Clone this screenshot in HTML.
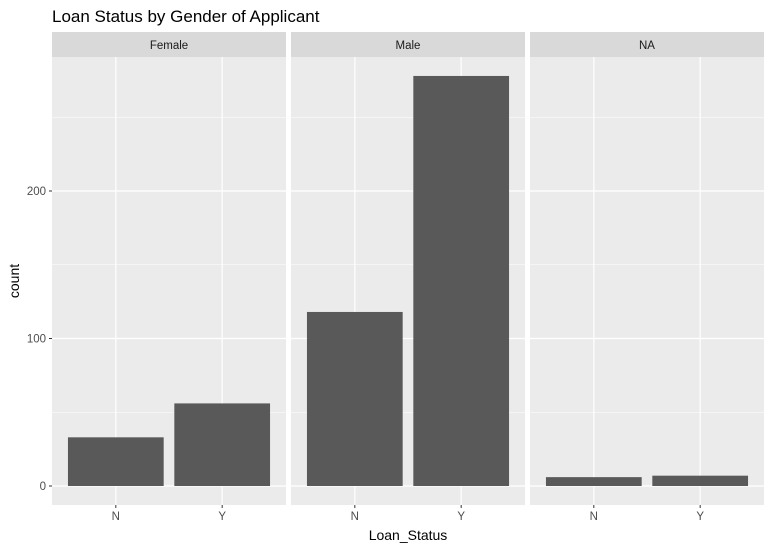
<!DOCTYPE html>
<html><head><meta charset="utf-8"><style>
body{margin:0;background:#fff;}
svg{display:block;font-family:"Liberation Sans",Arial,sans-serif;}
</style></head><body>
<svg id="chart" width="771" height="550">
<text x="52" y="22" font-size="17" fill="#000">Loan Status by Gender of Applicant</text>
<text transform="translate(19,281) rotate(-90)" text-anchor="middle" font-size="14" fill="#000">count</text>
<text x="408" y="540" text-anchor="middle" font-size="14" fill="#000">Loan_Status</text>
</svg>
<script>
const panels = ["Female","Male","NA"];
const categories = ["N","Y"];
const femaleCounts = [33, 56];
const maleCounts = [118, 278];
const naCounts = [6, 7];
const yTicks = [0, 100, 200];
const yMinor = [50, 150, 250];
const series = [femaleCounts, maleCounts, naCounts];

const svg = document.getElementById('chart');
const NS = 'http://www.w3.org/2000/svg';
const panelX = [52, 291, 530], panelW = 234;
const plotTop = 57, plotBottom = 505;
const y = v => 486 - v * 1.475;
const x = (p, i) => panelX[p] + (i + 1 - 0.4) * panelW / 2.2;
const bw = 0.9 * panelW / 2.2;
function mk(tag, attrs) { const e = document.createElementNS(NS, tag); for (const k in attrs) e.setAttribute(k, attrs[k]); svg.appendChild(e); return e; }

panels.forEach((name, p) => {
  const bg = mk('rect', {x: panelX[p], y: plotTop, width: panelW, height: plotBottom - plotTop, fill: '#ebebeb'});
  
  
  const st = mk('rect', {x: panelX[p], y: 32, width: panelW, height: 25, fill: '#d9d9d9'});
  
  
  const stt = mk('text', {x: panelX[p] + panelW / 2, y: 49, 'text-anchor': 'middle', 'font-size': 11.5, fill: '#1a1a1a'});
  stt.textContent = name;
  
  
  yMinor.forEach(v => { const l = mk('line', {x1: panelX[p], x2: panelX[p] + panelW, y1: y(v), y2: y(v), stroke: '#fff', 'stroke-width': 0.6});
    
     });
  yTicks.forEach(v => { const l = mk('line', {x1: panelX[p], x2: panelX[p] + panelW, y1: y(v), y2: y(v), stroke: '#fff', 'stroke-width': 1.2});
    
     });
  categories.forEach((c, i) => {
    const l = mk('line', {x1: x(p, i), x2: x(p, i), y1: plotTop, y2: plotBottom, stroke: '#fff', 'stroke-width': 1.2});
    
    
  });
  categories.forEach((c, i) => {
    const v = series[p][i];
    const b = mk('rect', {x: x(p, i) - bw / 2, y: y(v), width: bw, height: y(0) - y(v), fill: '#595959'});
    
    
    const t = mk('line', {x1: x(p, i), x2: x(p, i), y1: plotBottom, y2: plotBottom + 3, stroke: '#333'});
    
    
    const tl = mk('text', {x: x(p, i), y: plotBottom + 15, 'text-anchor': 'middle', 'font-size': 11.5, fill: '#4d4d4d'});
    tl.textContent = c;
    
    
  });
});
yTicks.forEach(v => {
  const t = mk('line', {x1: 49, x2: 52, y1: y(v), y2: y(v), stroke: '#333'});
  
  
  const tl = mk('text', {x: 46, y: y(v) + 4, 'text-anchor': 'end', 'font-size': 11.5, fill: '#4d4d4d'});
  tl.textContent = v;
  
  
});
</script>
</body></html>
